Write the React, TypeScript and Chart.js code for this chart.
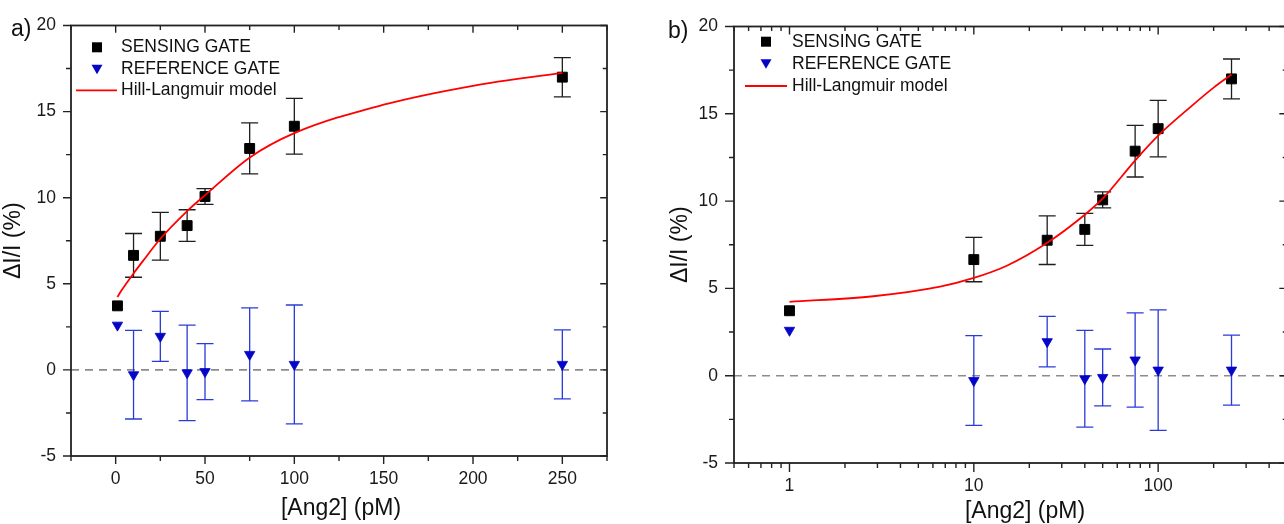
import React, { useEffect, useRef } from "react";
import { Chart, registerables } from "chart.js";

Chart.register(...registerables);

// Ang2 concentrations (pM) shared by both gates
const concentrations = [1, 10, 25, 40, 50, 75, 100, 250];

// Sensing gate response ΔI/I (%) and its error
const sensingGate = [3.72, 6.65, 7.76, 8.38, 10.07, 12.86, 14.15, 17.0];
const sensingErr = [0, 1.27, 1.39, 0.92, 0.46, 1.48, 1.62, 1.14];

// Reference gate response ΔI/I (%) and its error
const referenceGate = [2.6, -0.28, 1.95, -0.17, -0.1, 0.9, 0.32, 0.32];
const referenceErr = [0, 2.57, 1.45, 2.77, 1.63, 2.7, 3.45, 2.0];

// Hill-Langmuir fitted curve
const modelX = [1, 2.85, 6.56, 10, 15.1, 24.9, 40.3, 50.1, 75.3, 100, 150, 200, 250];
const modelY = [4.23, 4.55, 5.1, 5.6, 6.3, 7.6, 9.25, 10.15, 12.35, 13.75, 15.4, 16.5, 17.25];

// Axis ticks
const xTicksLinear = [0, 50, 100, 150, 200, 250];
const xMinorLinear = [-25, 25, 75, 125, 175, 225, 275];
const xTicksLog = [1, 10, 100];
const xMinorLog = [0.5, 0.6, 0.7, 0.8, 0.9, 2, 3, 4, 5, 6, 7, 8, 9, 20, 30, 40, 50, 60, 70, 80, 90, 200, 300, 400, 500];
const yTicks = [-5, 0, 5, 10, 15, 20];
const yMinor = [-2.5, 2.5, 7.5, 12.5, 17.5];

const legendLabels = ["SENSING GATE", "REFERENCE GATE", "Hill-Langmuir model"];
const xTitle = "[Ang2] (pM)";
const yTitle = "ΔI/I (%)";

const FONT = '"Liberation Sans", Arial, Helvetica, sans-serif';
const SQUARE = "#000000";
const TRI = "#0505c8";
const TRI_BAR = "#2a3bd8";
const RED = "#ff0000";
const AXIS = "#222222";

type Panel = {
  left: number;
  width: number;
  height: number;
  area: { left: number; right: number; top: number; bottom: number };
  xType: "linear" | "logarithmic";
  xMin: number;
  xMax: number;
  xTicks: number[];
  xMinor: number[];
  letter: string;
  letterX: number;
  letterY: number;
  legend: { markerX: number; lineX0: number; lineX1: number; textX: number; rows: number[] };
  xTitleX: number;
  xTitleY: number;
  yTickPad: number;
  xTickPad: number;
  yTitlePad: number;
  majorLen: number;
  minorLen: number;
};

const panels: Panel[] = [
  {
    left: 0,
    width: 640,
    height: 524,
    area: { left: 71, right: 607, top: 24, bottom: 456 },
    xType: "linear",
    xMin: -25,
    xMax: 275,
    xTicks: xTicksLinear,
    xMinor: xMinorLinear,
    letter: "a)",
    letterX: 11,
    letterY: 30,
    legend: { markerX: 97, lineX0: 76, lineX1: 117, textX: 121, rows: [47.3, 69.3, 90.3] },
    xTitleX: 341,
    xTitleY: 509,
    yTickPad: 15,
    xTickPad: 13,
    yTitlePad: 2.5,
    majorLen: 8,
    minorLen: 5,
  },
  {
    left: 640,
    width: 660,
    height: 524,
    area: { left: 94, right: 647, top: 17, bottom: 463 },
    xType: "logarithmic",
    xMin: 0.5,
    xMax: 500,
    xTicks: xTicksLog,
    xMinor: xMinorLog,
    letter: "b)",
    letterX: 28,
    letterY: 31.7,
    legend: { markerX: 126, lineX0: 105, lineX1: 147, textX: 152, rows: [41.7, 63.7, 86] },
    xTitleX: 385,
    xTitleY: 512,
    yTickPad: 16,
    xTickPad: 13,
    yTitlePad: 29.5,
    majorLen: 9,
    minorLen: 5,
  },
];

function drawErrorBars(chart: Chart, values: number[], errors: number[], color: string) {
  const { ctx } = chart;
  const x = chart.scales.x;
  const y = chart.scales.y;
  ctx.save();
  ctx.strokeStyle = color;
  ctx.lineWidth = 1.3;
  concentrations.forEach((c, i) => {
    const e = errors[i];
    if (!e) return;
    const px = x.getPixelForValue(c);
    const pt = y.getPixelForValue(values[i] + e);
    const pb = y.getPixelForValue(values[i] - e);
    ctx.beginPath();
    ctx.moveTo(px, pt);
    ctx.lineTo(px, pb);
    ctx.moveTo(px - 8.5, pt);
    ctx.lineTo(px + 8.5, pt);
    ctx.moveTo(px - 8.5, pb);
    ctx.lineTo(px + 8.5, pb);
    ctx.stroke();
  });
  ctx.restore();
}

function makeDecorPlugin(p: Panel) {
  return {
    id: "decor",
    beforeDatasetsDraw(chart: Chart) {
      const { ctx, chartArea } = chart;
      const y = chart.scales.y;
      // dashed zero baseline
      const y0 = y.getPixelForValue(0);
      ctx.save();
      ctx.strokeStyle = "#8c8c8c";
      ctx.lineWidth = 1.6;
      ctx.setLineDash([8, 6]);
      ctx.beginPath();
      ctx.moveTo(chartArea.left, y0);
      ctx.lineTo(chartArea.right, y0);
      ctx.stroke();
      ctx.restore();
      drawErrorBars(chart, sensingGate, sensingErr, "#1e1e1e");
      drawErrorBars(chart, referenceGate, referenceErr, TRI_BAR);
    },
    afterDraw(chart: Chart) {
      const { ctx, chartArea } = chart;
      const { left, right, top, bottom } = chartArea;
      const x = chart.scales.x;
      const y = chart.scales.y;
      ctx.save();
      // frame
      ctx.strokeStyle = AXIS;
      ctx.lineWidth = 1.8;
      ctx.strokeRect(left, top, right - left, bottom - top);
      // tick marks: outward on bottom/left, inward mirrors on top/right
      ctx.lineWidth = 1.4;
      ctx.beginPath();
      const xTick = (v: number, len: number) => {
        const px = x.getPixelForValue(v);
        ctx.moveTo(px, bottom);
        ctx.lineTo(px, bottom + len);
        ctx.moveTo(px, top);
        ctx.lineTo(px, top + len * 0.9);
      };
      const yTick = (v: number, len: number) => {
        const py = y.getPixelForValue(v);
        ctx.moveTo(left, py);
        ctx.lineTo(left - len, py);
        ctx.moveTo(right, py);
        ctx.lineTo(right - len * 0.85, py);
      };
      p.xTicks.forEach((v) => xTick(v, p.majorLen));
      p.xMinor.forEach((v) => xTick(v, p.minorLen));
      yTicks.forEach((v) => yTick(v, p.majorLen));
      yMinor.forEach((v) => yTick(v, p.minorLen));
      ctx.stroke();

      // legend
      const L = p.legend;
      ctx.fillStyle = SQUARE;
      ctx.fillRect(L.markerX - 5, L.rows[0] - 5, 10, 10);
      ctx.fillStyle = TRI;
      ctx.beginPath();
      ctx.moveTo(L.markerX - 5.5, L.rows[1] - 4.5);
      ctx.lineTo(L.markerX + 5.5, L.rows[1] - 4.5);
      ctx.lineTo(L.markerX, L.rows[1] + 5);
      ctx.closePath();
      ctx.fill();
      ctx.strokeStyle = RED;
      ctx.lineWidth = 1.8;
      ctx.beginPath();
      ctx.moveTo(L.lineX0, L.rows[2]);
      ctx.lineTo(L.lineX1, L.rows[2]);
      ctx.stroke();
      ctx.fillStyle = "#111111";
      ctx.font = `17.5px ${FONT}`;
      ctx.textBaseline = "middle";
      ctx.textAlign = "left";
      legendLabels.forEach((t, i) => ctx.fillText(t, L.textX, L.rows[i]));

      // x-axis title
      ctx.font = `23px ${FONT}`;
      ctx.textAlign = "center";
      ctx.fillText(xTitle, p.xTitleX, p.xTitleY);

      // panel letter
      ctx.textAlign = "left";
      ctx.fillText(p.letter, p.letterX, p.letterY);
      ctx.restore();
    },
  };
}

function PanelChart({ p }: { p: Panel }) {
  const ref = useRef<HTMLCanvasElement | null>(null);

  useEffect(() => {
    if (!ref.current) return;
    const curve = modelX.map((v, i) => ({ x: v, y: modelY[i] }));
    const sensing = concentrations.map((v, i) => ({ x: v, y: sensingGate[i] }));
    const reference = concentrations.map((v, i) => ({ x: v, y: referenceGate[i] }));
    const tickFont = { family: FONT, size: 17.5 };

    const chart = new Chart(ref.current, {
      type: "line",
      data: {
        datasets: [
          {
            label: legendLabels[2],
            data: curve,
            borderColor: RED,
            borderWidth: 1.8,
            pointRadius: 0,
            cubicInterpolationMode: "monotone",
            fill: false,
          },
          {
            label: legendLabels[0],
            data: sensing,
            showLine: false,
            pointStyle: "rect",
            pointRadius: 7,
            pointBackgroundColor: SQUARE,
            pointBorderColor: SQUARE,
            pointBorderWidth: 1,
          },
          {
            label: legendLabels[1],
            data: reference,
            showLine: false,
            pointStyle: "triangle",
            pointRotation: 180,
            pointRadius: 6,
            pointBackgroundColor: TRI,
            pointBorderColor: TRI,
            pointBorderWidth: 0.8,
          },
        ],
      },
      options: {
        responsive: false,
        animation: false,
        events: [],
        layout: {
          padding: { left: 0, top: p.area.top, right: p.width - p.area.right, bottom: 0 },
        },
        plugins: { legend: { display: false }, tooltip: { enabled: false } },
        scales: {
          x: {
            type: p.xType,
            min: p.xMin,
            max: p.xMax,
            grid: { display: false, drawTicks: false },
            border: { display: false },
            ticks: {
              font: tickFont,
              color: "#1a1a1a",
              padding: p.xTickPad,
              autoSkip: false,
              maxRotation: 0,
              callback: (v: any) => String(v),
            },
            afterBuildTicks: (scale: any) => {
              scale.ticks = p.xTicks.map((v) => ({ value: v }));
            },
            afterFit: (scale: any) => {
              scale.height = p.height - p.area.bottom;
            },
          },
          y: {
            type: "linear",
            min: -5,
            max: 20,
            grid: { display: false, drawTicks: false },
            border: { display: false },
            ticks: {
              font: tickFont,
              color: "#1a1a1a",
              padding: p.yTickPad,
              autoSkip: false,
              callback: (v: any) => String(v),
            },
            afterBuildTicks: (scale: any) => {
              scale.ticks = yTicks.map((v) => ({ value: v }));
            },
            afterFit: (scale: any) => {
              scale.width = p.area.left;
            },
            title: {
              display: true,
              text: yTitle,
              color: "#111111",
              font: { family: FONT, size: 23, lineHeight: 1 },
              padding: { top: p.yTitlePad, bottom: 0 },
            },
          },
        },
      } as any,
      plugins: [makeDecorPlugin(p) as any],
    });
    return () => chart.destroy();
  }, [p]);

  return (
    <canvas
      ref={ref}
      width={p.width}
      height={p.height}
      style={{ position: "absolute", left: p.left, top: 0, width: p.width, height: p.height }}
    />
  );
}

export default function App() {
  return (
    <div
      style={{
        position: "absolute",
        left: 0,
        top: 0,
        width: 1284,
        height: 524,
        overflow: "hidden",
        background: "#ffffff",
      }}
    >
      {panels.map((p) => (
        <PanelChart key={p.letter} p={p} />
      ))}
    </div>
  );
}
